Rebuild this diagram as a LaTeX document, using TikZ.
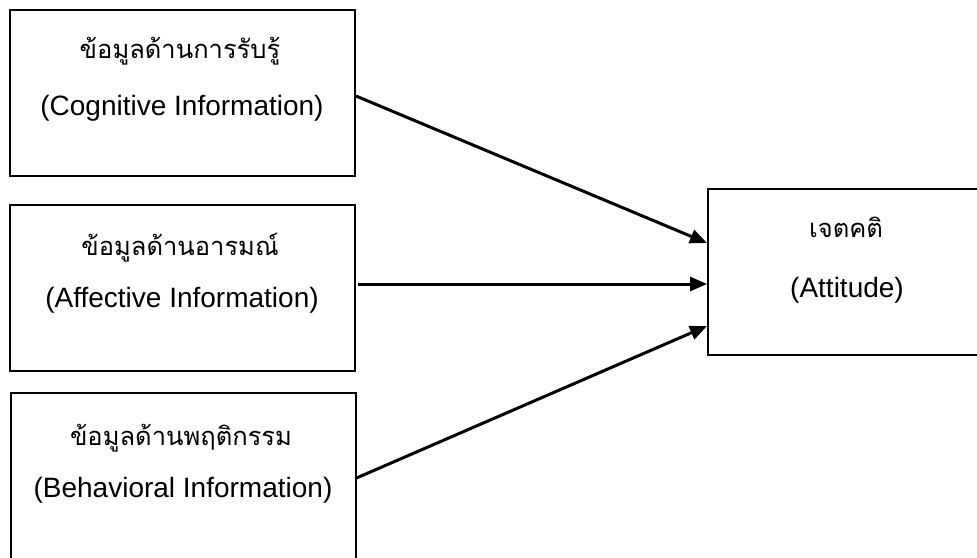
\documentclass[tikz,border=0pt]{standalone}
\usepackage{fontspec}
\setmainfont{Liberation Sans}
\newfontfamily\thaifont[Script=Thai]{Loma}
\usetikzlibrary{arrows.meta}

\begin{document}
\begin{tikzpicture}[x=1pt, y=-1pt,
    infobox/.style={draw, line width=2pt, minimum width=345pt, minimum height=166pt, inner sep=0pt},
    thai/.style={anchor=base, inner sep=0pt, font=\thaifont\fontsize{25.5}{30}\selectfont},
    eng/.style={anchor=base, inner sep=0pt, font=\fontsize{28}{33}\selectfont},
    link/.style={line width=3pt, -{Triangle[length=17pt,width=14pt]}}]
      \useasboundingbox (0,0) rectangle (977,557);
      \node[infobox] (Cog) at (182.5,93) {};
      \node[thai] (CogT) at (180,58) {ข้อมูลด้านการรับรู้};
      \node[eng] (CogE) at (182,115) {(Cognitive Information)};
      \node[infobox] (Aff) at (182.5,288) {};
      \node[thai] (AffT) at (180,255) {ข้อมูลด้านอารมณ์};
      \node[eng] (AffE) at (182,307) {(Affective Information)};
      \node[infobox] (Beh) at (183,476) {};
      \node[thai] (BehT) at (181,445) {ข้อมูลด้านพฤติกรรม};
      \node[eng] (BehE) at (183,497) {(Behavioral Information)};
      \node[infobox, minimum width=278pt] (Att) at (847,272) {};
      \node[thai] (AttT) at (846,237) {เจตคติ};
      \node[eng] (AttE) at (847,297) {(Attitude)};
      \draw [link] ([yshift=-3pt]Cog.east) -- ([yshift=29pt]Att.west);
      \draw [link] ([xshift=2pt, yshift=4pt]Aff.east) -- ([yshift=-12pt]Att.west);
      \draw [link] ([yshift=-2pt]Beh.east) -- ([yshift=-54pt]Att.west);
    \end{tikzpicture}
\end{document}
